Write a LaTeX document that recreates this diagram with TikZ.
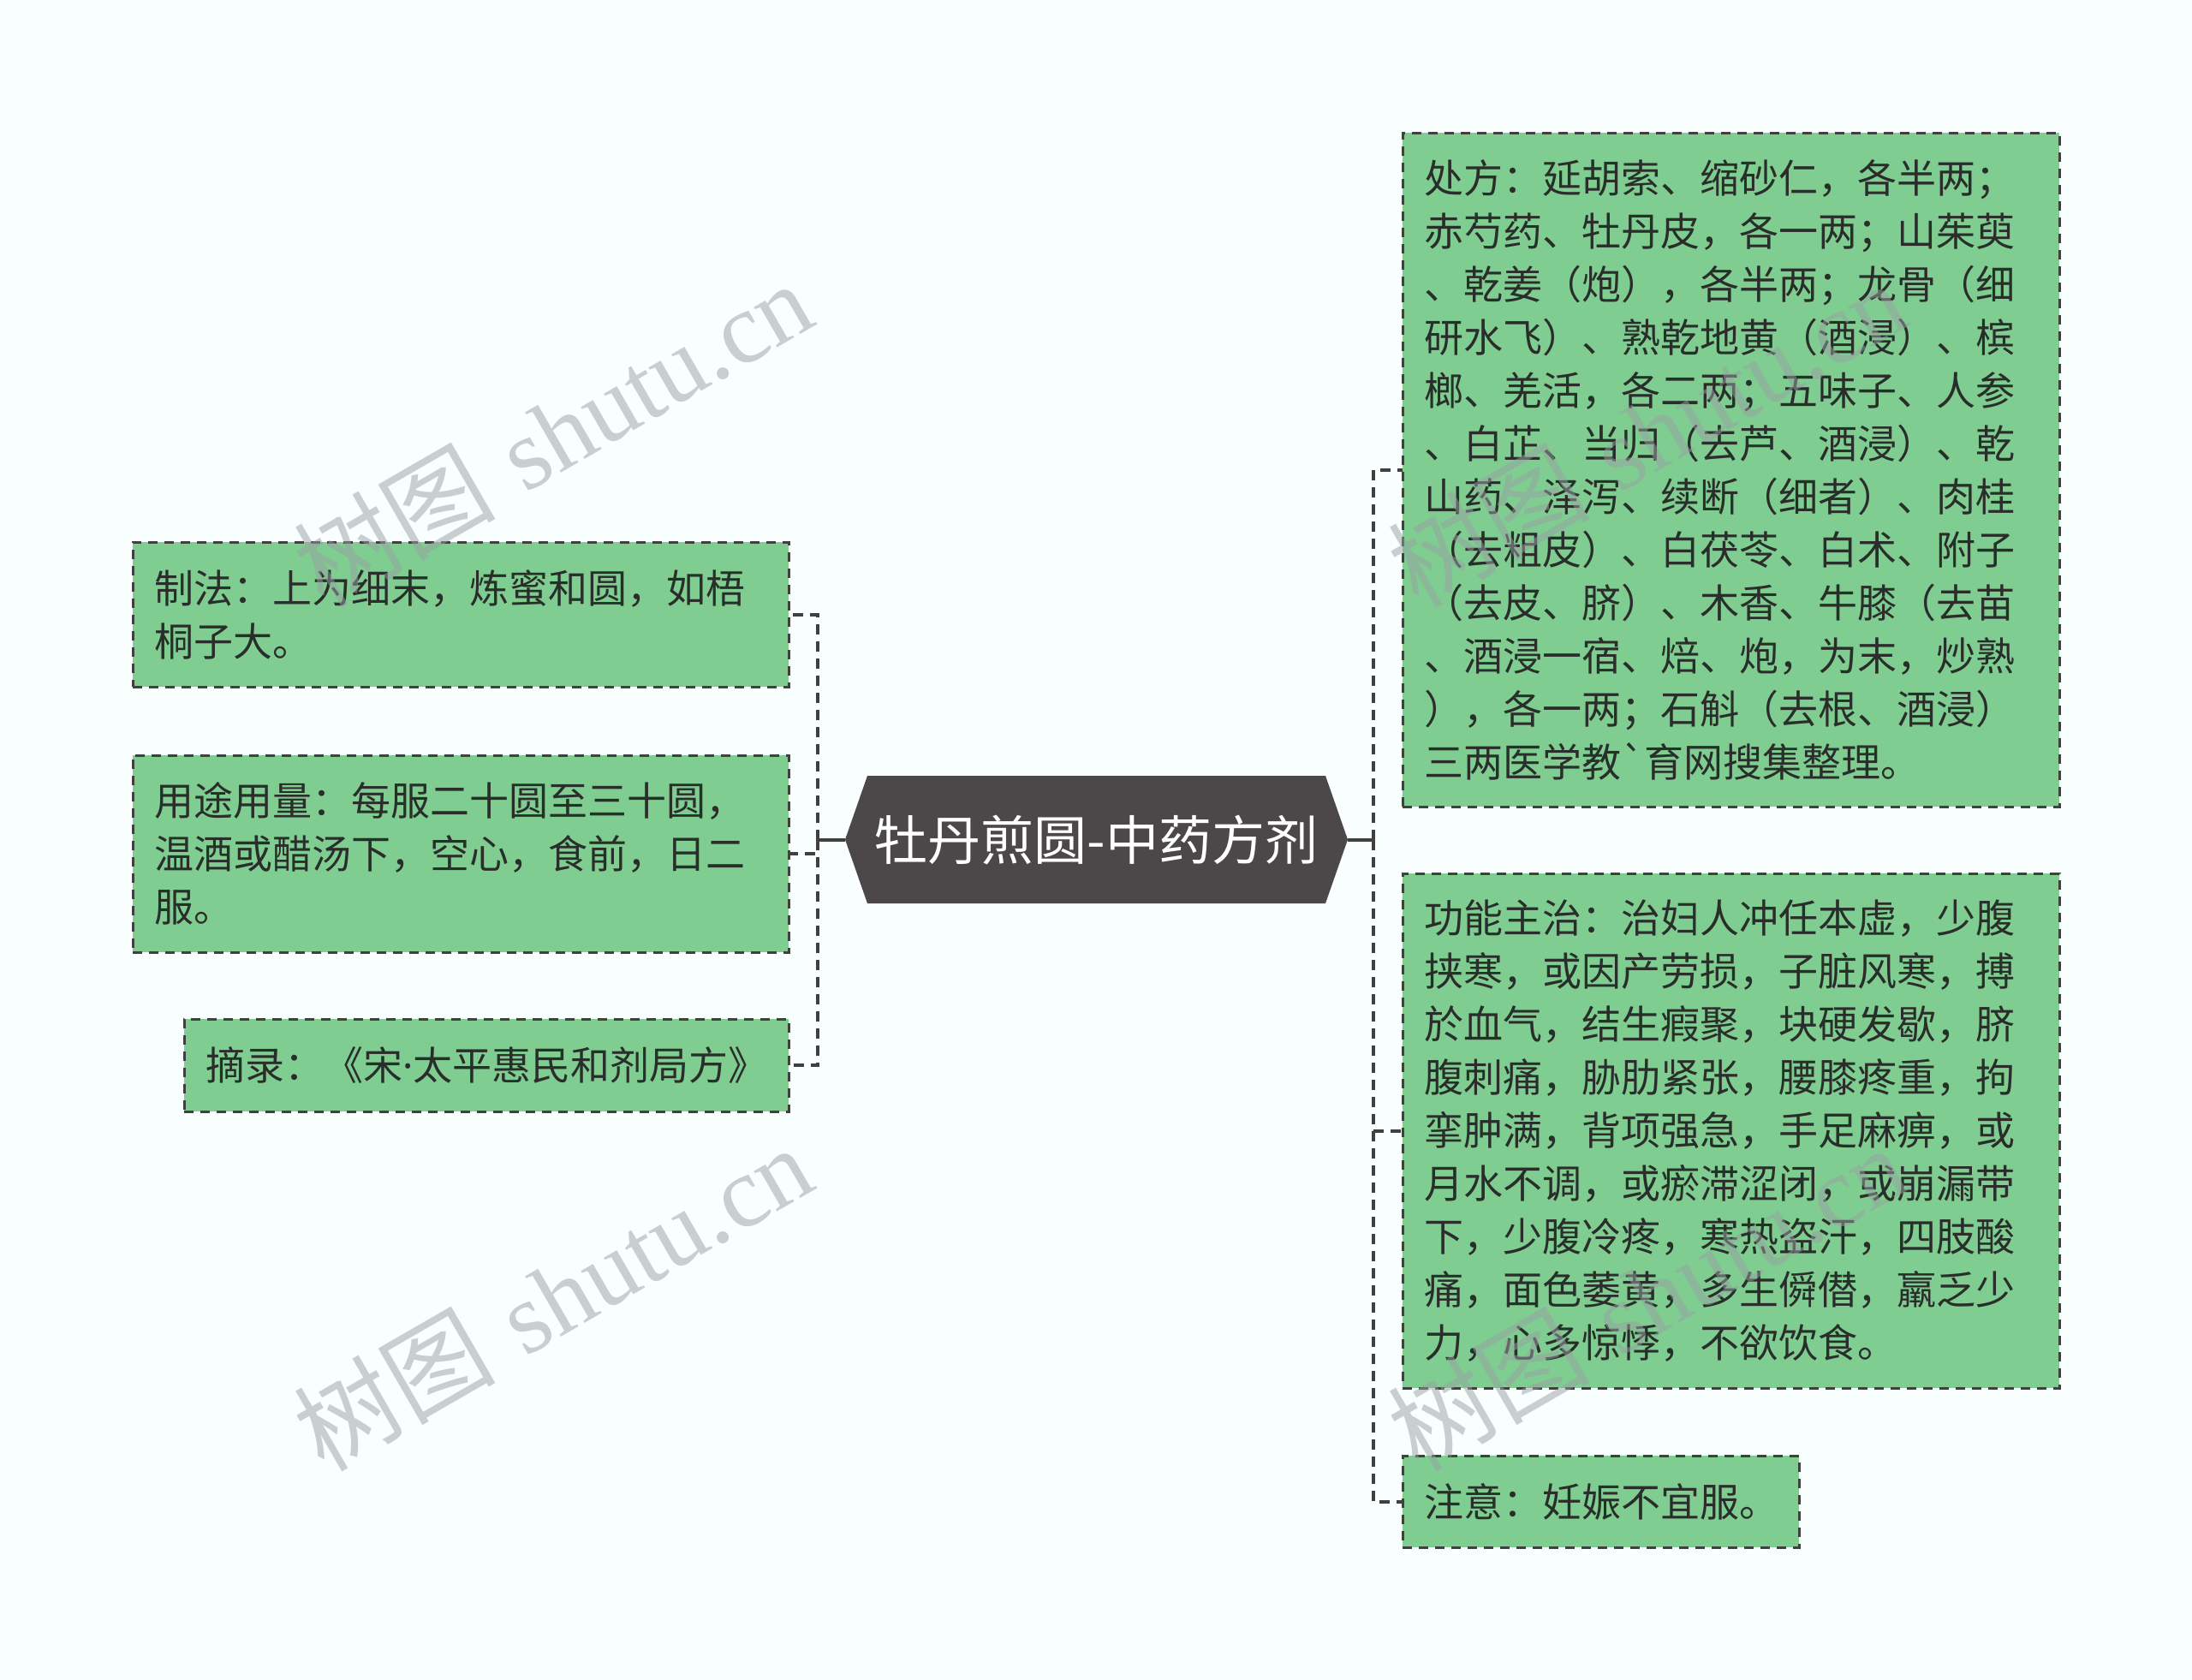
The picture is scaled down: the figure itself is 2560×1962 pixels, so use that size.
\documentclass[tikz,border=0pt]{standalone}
\usepackage{fontspec}
\newfontfamily\cjk{Noto Sans CJK SC}[Ligatures=TeXOff]
\newfontfamily\wmlatin{Liberation Serif}
\newfontfamily\latinsans{Noto Sans}
\usetikzlibrary{backgrounds}
\definecolor{bgc}{HTML}{F9FEFE}
\definecolor{leafc}{HTML}{7FCD91}
\definecolor{linec}{HTML}{404040}
\definecolor{rootc}{HTML}{4C4748}
\definecolor{txtc}{HTML}{2A2E2B}
\definecolor{wmc}{HTML}{9AA0A3}
\tikzset{
  leaf/.style={draw=linec, line width=3pt, dash pattern=on 11pt off 8pt, fill=leafc,
    text=txtc, font=\cjk\fontsize{46}{62}\selectfont, align=left,
    inner xsep=25pt, inner ysep=0pt, outer sep=0pt, anchor=north west},
  rootnode/.style={text=white, font=\cjk\fontsize{62}{70}\selectfont, inner sep=0pt,
    outer sep=0pt, minimum width=587pt, minimum height=149pt},
  link/.style={draw=linec, line width=4pt},
  dlink/.style={link, dash pattern=on 12pt off 8pt},
  wm/.style={text=wmc, text opacity=0.5, rotate=30, inner sep=0pt,
    font=\fontsize{118}{126}\selectfont}
}
\begin{document}
\begin{tikzpicture}[x=1pt,y=-1pt]
\useasboundingbox (0,0) rectangle (2560,1962);
\begin{scope}[on background layer]
  \fill[bgc] (0,0) rectangle (2560,1962);
\end{scope}

% root
\node[rootnode] (root) at (1280.5,980.5) {牡丹煎圆-中药方剂};
\begin{scope}[on background layer]
  \fill[rootc] (root.west) -- ([xshift=26pt]root.north west) -- ([xshift=-26pt]root.north east)
    -- (root.east) -- ([xshift=-26pt]root.south east) -- ([xshift=26pt]root.south west) -- cycle;
\end{scope}

% junctions
\coordinate (lj) at (955,980.5);
\coordinate (rj) at (1604,980.5);

% left boxes
\node[leaf, text width=716pt, minimum width=766pt, minimum height=169pt] (zf) at (155,633)
  {制法：上为细末，炼蜜和圆，如梧\\桐子大。};
\node[leaf, text width=716pt, minimum width=766pt, minimum height=230pt] (yt) at (155,882)
  {用途用量：每服二十圆至三十圆，\\温酒或醋汤下，空心，食前，日二\\服。};
\node[leaf, text width=656pt, minimum width=706pt, minimum height=108pt] (zl) at (215,1190)
  {摘录：《宋{\latinsans ·}太平惠民和剂局方》};

% right boxes
\node[leaf, text width=717pt, minimum width=767pt, minimum height=787pt] (cf) at (1638,155)
  {处方：延胡索、缩砂仁，各半两；\\赤芍药、牡丹皮，各一两；山茱萸\\、乾姜（炮），各半两；龙骨（细\\研水飞）、熟乾地黄（酒浸）、槟\\榔、羌活，各二两；五味子、人参\\、白芷、当归（去芦、酒浸）、乾\\山药、泽泻、续断（细者）、肉桂\\（去粗皮）、白茯苓、白术、附子\\（去皮、脐）、木香、牛膝（去苗\\、酒浸一宿、焙、炮，为末，炒熟\\），各一两；石斛（去根、酒浸）\\三两医学教`育网搜集整理。};
\node[leaf, text width=717pt, minimum width=767pt, minimum height=601pt] (gn) at (1638,1020)
  {功能主治：治妇人冲任本虚，少腹\\挟寒，或因产劳损，子脏风寒，搏\\於血气，结生瘕聚，块硬发歇，脐\\腹刺痛，胁肋紧张，腰膝疼重，拘\\挛肿满，背项强急，手足麻痹，或\\月水不调，或瘀滞涩闭，或崩漏带\\下，少腹冷疼，寒热盗汗，四肢酸\\痛，面色萎黄，多生僢僣，羸乏少\\力，心多惊悸，不欲饮食。};
\node[leaf, text width=413pt, minimum width=463pt, minimum height=107pt] (zy) at (1638,1700)
  {注意：妊娠不宜服。};

% connectors
\draw[link] (root.west) -- (lj);
\draw[link] (root.east) -- (rj);
\draw[dlink] (lj) |- (zf.east);
\draw[dlink] (lj) |- (yt.east);
\draw[dlink] (lj) |- (zl.east);
\draw[dlink] (rj) |- (cf.west);
\draw[dlink] (rj) |- (gn.west);
\draw[dlink] (rj) |- (zy.west);

% watermarks
\node[wm] (wm1) at (645,506) {{\cjk 树图} {\wmlatin shutu.cn}};
\node[wm] (wm2) at (645,1515) {{\cjk 树图} {\wmlatin shutu.cn}};
\node[wm] (wm3) at (1923,506) {{\cjk 树图} {\wmlatin shutu.cn}};
\node[wm] (wm4) at (1923,1515) {{\cjk 树图} {\wmlatin shutu.cn}};
\end{tikzpicture}
\end{document}
